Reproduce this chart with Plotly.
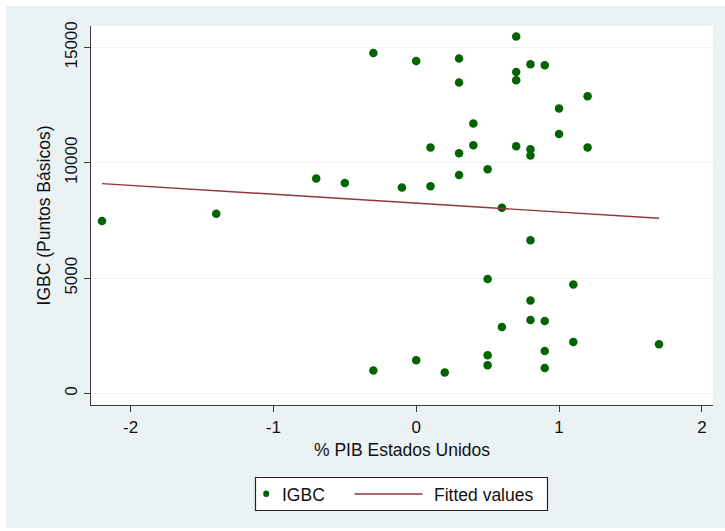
import plotly.graph_objects as go

# Quarterly US GDP growth (%) against the IGBC index (basis points)
pib_eeuu = [-2.2, -1.4, -0.7, -0.5, -0.3, -0.3, -0.1, 0.0, 0.0, 0.1, 0.1, 0.2,
            0.3, 0.3, 0.3, 0.3, 0.4, 0.4, 0.5, 0.5, 0.5, 0.5, 0.6, 0.6,
            0.7, 0.7, 0.7, 0.7, 0.8, 0.8, 0.8, 0.8, 0.8, 0.8,
            0.9, 0.9, 0.9, 0.9, 1.0, 1.0, 1.1, 1.1, 1.2, 1.2, 1.7]
igbc = [7480, 7790, 9316, 9126, 14758, 1000, 8926, 14412, 1443, 10659, 8982, 910,
        14516, 13476, 10412, 9472, 11699, 10759, 9719, 4966, 1660, 1226, 8050, 2886,
        15469, 13935, 13576, 10716, 14269, 10586, 10313, 6643, 4030, 3189,
        14226, 3146, 1846, 1109, 12349, 11249, 4723, 2236, 12882, 10659, 2136]

# Linear fit (fitted values at the ends of the x range)
fit_x = [-2.2, 1.7]
fit_y = [9100, 7596]

x_ticks = [-2, -1, 0, 1, 2]
y_ticks = [0, 5000, 10000, 15000]

legend_labels = ["IGBC", "Fitted values"]

W, H = 725, 531
ML, MR, MT, MB = 91, 12, 26, 126
PW, PH = W - ML - MR, H - MT - MB

BG = "#EAF2F3"
GREEN = "#006400"
MAROON = "#90353B"
AXIS = "#3a3a3a"
FONT = "Liberation Sans, Arial, sans-serif"


def px(x):
    return (x - ML) / PW


def py(y):
    return (H - MB - y) / PH


fig = go.Figure()
fig.add_trace(go.Scatter(
    x=pib_eeuu, y=igbc, mode="markers", name=legend_labels[0],
    marker=dict(color=GREEN, size=8.5, line=dict(width=0)),
    showlegend=False,
))
fig.add_trace(go.Scatter(
    x=fit_x, y=fit_y, mode="lines", name=legend_labels[1],
    line=dict(color=MAROON, width=1.4),
    showlegend=False,
))

white_edge = dict(width=0)
shapes = [
    # thin white frame around the graph region
    dict(type="rect", xref="paper", yref="paper", x0=px(-2), x1=px(W + 2),
         y0=py(6), y1=py(-2), fillcolor="white", line=white_edge),
    dict(type="rect", xref="paper", yref="paper", x0=px(-2), x1=px(6),
         y0=py(H + 2), y1=py(-2), fillcolor="white", line=white_edge),
    dict(type="rect", xref="paper", yref="paper", x0=px(-2), x1=px(W + 2),
         y0=py(H + 2), y1=py(528), fillcolor="white", line=white_edge),
    # legend box
    dict(type="rect", xref="paper", yref="paper",
         x0=px(255.5), x1=px(547.5), y0=py(510.5), y1=py(477.5),
         fillcolor="white", line=dict(color="#222222", width=1.2)),
    dict(type="circle", xref="paper", yref="paper",
         x0=px(263.2), x1=px(269.2), y0=py(497.0), y1=py(490.5),
         fillcolor=GREEN, line=dict(width=0)),
    dict(type="line", xref="paper", yref="paper",
         x0=px(354.5), x1=px(422.5), y0=py(494), y1=py(494),
         line=dict(color=MAROON, width=1.4)),
]

annotations = [
    dict(text=legend_labels[0], xref="paper", yref="paper",
         x=px(279.5), y=py(494.5), xanchor="left", yanchor="middle",
         showarrow=False, font=dict(family=FONT, size=17.5, color="#111111")),
    dict(text=legend_labels[1], xref="paper", yref="paper",
         x=px(431.5), y=py(494.5), xanchor="left", yanchor="middle",
         showarrow=False, font=dict(family=FONT, size=17.5, color="#111111")),
]

fig.update_layout(
    width=W, height=H,
    margin=dict(l=ML, r=MR, t=MT, b=MB, pad=0),
    paper_bgcolor=BG,
    plot_bgcolor="white",
    font=dict(family=FONT, size=17, color="#111111"),
    showlegend=False,
    shapes=shapes,
    annotations=annotations,
    xaxis=dict(
        range=[-2.277, 2.078],
        tickvals=x_ticks, ticktext=[str(v) for v in x_ticks],
        ticks="outside", ticklen=6, tickwidth=1.2, tickcolor=AXIS,
        showline=True, linecolor=AXIS, linewidth=1.4,
        showgrid=False, zeroline=False,
        tickfont=dict(size=17),
        title=dict(text="% PIB Estados Unidos", font=dict(size=17.5), standoff=8),
        fixedrange=True,
    ),
    yaxis=dict(
        range=[-494, 15928],
        tickvals=y_ticks, ticktext=[str(v) for v in y_ticks],
        tickangle=-90,
        ticks="outside", ticklen=6, tickwidth=1.2, tickcolor=AXIS,
        showline=True, linecolor=AXIS, linewidth=1.4,
        showgrid=True, gridcolor=BG, gridwidth=1.2,
        zeroline=False,
        tickfont=dict(size=17),
        title=dict(text="IGBC (Puntos Básicos)", font=dict(size=17.5), standoff=6),
        fixedrange=True,
    ),
)

fig.write_html("out.html", config={"displayModeBar": False})
